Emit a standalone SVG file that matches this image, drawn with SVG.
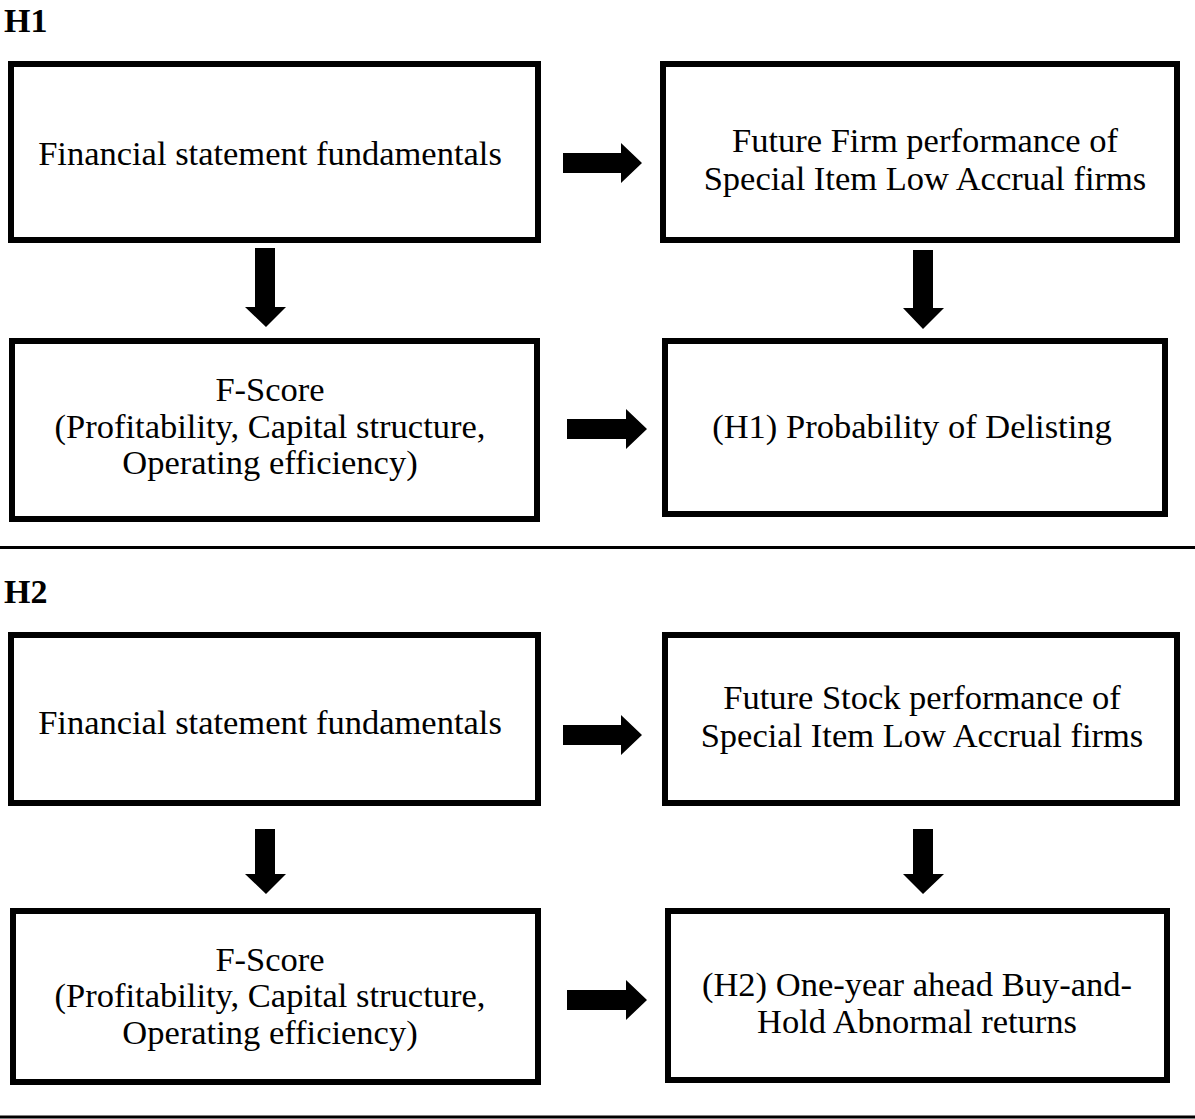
<svg xmlns="http://www.w3.org/2000/svg" width="1195" height="1119" viewBox="0 0 1195 1119">
<style>
.box{fill:#fff;stroke:#000;stroke-width:6}
.t{font-family:"Liberation Serif","Times New Roman",serif;font-size:34.5px;fill:#000;text-anchor:middle}
.h{font-family:"Liberation Serif","Times New Roman",serif;font-size:34px;font-weight:bold;fill:#000}
.arr{fill:#000}
.sep{stroke:#000;stroke-width:3}
</style>
<rect width="1195" height="1119" fill="#fff"/>
<text class="h" x="4" y="32">H1</text>
<text class="h" x="4" y="603">H2</text>
<line class="sep" x1="0" y1="547.5" x2="1195" y2="547.5"/>
<line class="sep" x1="0" y1="1117" x2="1195" y2="1117"/>

<g id="h1-fundamentals"><rect class="box" x="11" y="64" width="527" height="176"/><text class="t" x="270" y="165">Financial statement fundamentals</text></g>
<g id="h1-future"><rect class="box" x="663" y="64" width="514" height="176"/><text class="t" x="925" y="152">Future Firm performance of</text><text class="t" x="925" y="190">Special Item Low Accrual firms</text></g>
<g id="h1-fscore"><rect class="box" x="12" y="341" width="525" height="178"/><text class="t" x="270" y="401">F-Score</text><text class="t" x="270" y="438">(Profitability, Capital structure,</text><text class="t" x="270" y="474">Operating efficiency)</text></g>
<g id="h1-delisting"><rect class="box" x="665" y="341" width="500" height="173"/><text class="t" x="912" y="438">(H1) Probability of Delisting</text></g>

<g id="h2-fundamentals"><rect class="box" x="11" y="635" width="527" height="168"/><text class="t" x="270" y="734">Financial statement fundamentals</text></g>
<g id="h2-future"><rect class="box" x="665" y="635" width="512" height="168"/><text class="t" x="922" y="709">Future Stock performance of</text><text class="t" x="922" y="747">Special Item Low Accrual firms</text></g>
<g id="h2-fscore"><rect class="box" x="13" y="911" width="525" height="171"/><text class="t" x="270" y="971">F-Score</text><text class="t" x="270" y="1007">(Profitability, Capital structure,</text><text class="t" x="270" y="1044">Operating efficiency)</text></g>
<g id="h2-bhar"><rect class="box" x="668" y="911" width="499" height="169"/><text class="t" x="917" y="996">(H2) One-year ahead Buy-and-</text><text class="t" x="917" y="1033">Hold Abnormal returns</text></g>

<g id="connectors">
<polygon class="arr" points="563,153 621,153 621,143 642,163 621,183 621,173 563,173"/>
<polygon class="arr" points="567,419 626,419 626,409 647,429 626,449 626,439 567,439"/>
<polygon class="arr" points="255,248 275,248 275,307 286,307 266,327 245,307 255,307"/>
<polygon class="arr" points="913,250 933,250 933,308 944,308 923,329 903,308 913,308"/>
<polygon class="arr" points="563,725 621,725 621,715 642,735 621,755 621,745 563,745"/>
<polygon class="arr" points="567,990 626,990 626,980 647,1000 626,1020 626,1010 567,1010"/>
<polygon class="arr" points="255,829 275,829 275,874 286,874 266,894 245,874 255,874"/>
<polygon class="arr" points="913,829 933,829 933,874 944,874 923,894 903,874 913,874"/>
</g>
</svg>
